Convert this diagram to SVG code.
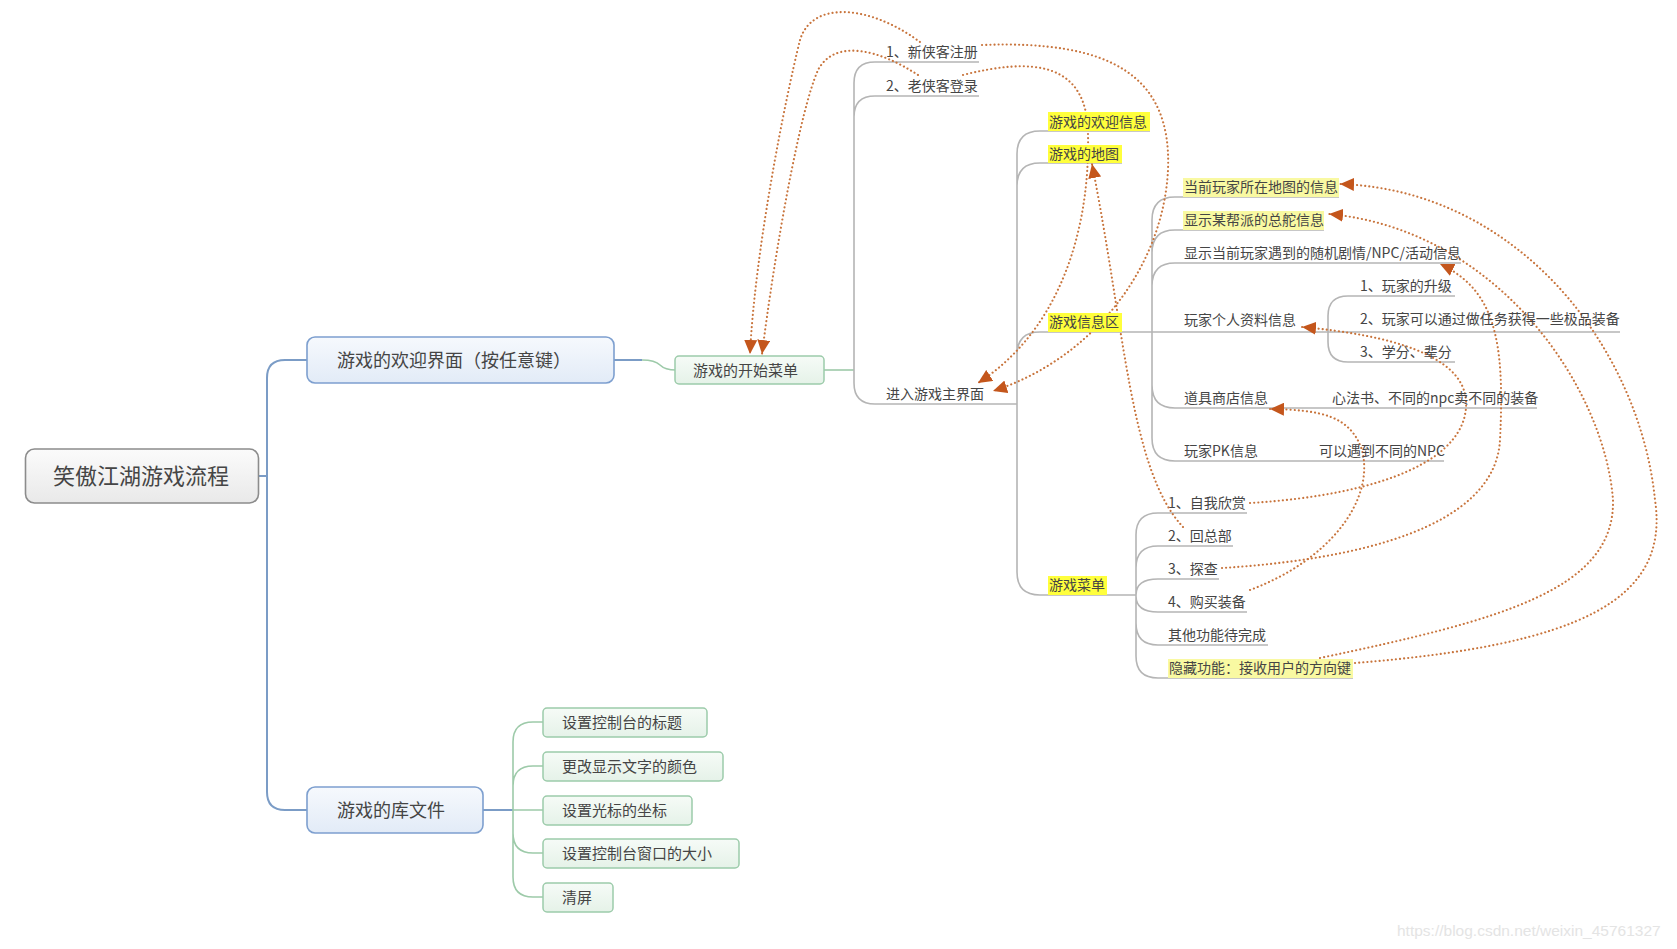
<svg xmlns="http://www.w3.org/2000/svg" width="1677" height="949" viewBox="0 0 1677 949">
<defs>
<linearGradient id="gRoot" x1="0" y1="0" x2="0" y2="1"><stop offset="0" stop-color="#fbfbfb"/><stop offset="1" stop-color="#e9e9e9"/></linearGradient>
<linearGradient id="gL1" x1="0" y1="0" x2="0" y2="1"><stop offset="0" stop-color="#f6f9fd"/><stop offset="1" stop-color="#e2ebf7"/></linearGradient>
<linearGradient id="gL2" x1="0" y1="0" x2="0" y2="1"><stop offset="0" stop-color="#f6fbf7"/><stop offset="1" stop-color="#e5f2e8"/></linearGradient>
<marker id="arr" markerUnits="userSpaceOnUse" markerWidth="15" markerHeight="13" refX="14" refY="6.5" orient="auto"><path d="M0,0 L14,6.5 L0,13 z" fill="#c4561c"/></marker>
<style>
.t{font-family:"Noto Sans CJK SC","Liberation Sans",sans-serif;fill:#454545}
.s14{font-size:14px}
.blue{fill:none;stroke:#7b9cc6;stroke-width:2}
.green{fill:none;stroke:#9dcaa9;stroke-width:1.6}
.gray{fill:none;stroke:#b5b5b5;stroke-width:1.6}
.rel{fill:none;stroke:#c8743c;stroke-width:2.1;stroke-dasharray:0.1 4;stroke-linecap:round;marker-end:url(#arr)}
.hb{fill:#ffff3c}
.hp{fill:#f9f9a2}
.box2{fill:url(#gL2);stroke:#9ccbaa;stroke-width:1.5}
</style>
</defs>
<rect width="1677" height="949" fill="#ffffff"/>

<g id="connectors">
<path class="blue" d="M259,476 H267 M307,360 H285 Q267,360 267,378 V792 Q267,810 285,810 H307"/>
<path class="blue" d="M614,360 H642"/>
<path class="green" d="M642,360 Q655,360 660,365 Q665,370 676,370"/>
<path class="green" d="M824,370 H854"/>
<path class="gray" d="M979,62 H875 Q854,62 854,83 V383 Q854,404 875,404 H1017 M979,96 H875 Q854,96 854,117"/>
<path class="gray" d="M1150,131 H1040 Q1017,131 1017,154 V572 Q1017,595 1040,595 H1136 M1122,163 H1040 Q1017,163 1017,186 M1040,332 Q1017,332 1017,355 M1040,332 H1620"/>
<path class="gray" d="M1339,197 H1175 Q1152,197 1152,220 V438 Q1152,461 1175,461 H1444 M1324,230 H1175 Q1152,230 1152,253 M1461,263 H1175 Q1152,263 1152,286 M1537,408 H1175 Q1152,408 1152,385"/>
<path class="gray" d="M1455,296 H1348 Q1328,296 1328,316 V342 Q1328,362 1348,362 H1455"/>
<path class="gray" d="M1247,513 H1158 Q1136,513 1136,535 V656 Q1136,678 1158,678 H1353 M1233,546 H1158 Q1136,546 1136,568 M1219,579 H1158 Q1136,579 1136,595 M1247,612 H1158 Q1136,612 1136,596 M1268,645 H1158 Q1136,645 1136,623"/>
<path class="blue" d="M483,810 H513"/>
<path class="green" d="M543,722 H533 Q513,722 513,742 V877 Q513,897 533,897 H543 M543,766 H533 Q513,766 513,786 M513,810 H543 M543,853 H533 Q513,853 513,833"/>

<path class="rel" d="M920,42 C870,5 812,0 800,40 C785,100 755,250 750,354"/>
<path class="rel" d="M918,75 C880,50 835,38 818,70 C800,110 775,250 762,354"/>
<path class="rel" d="M963,75 C1030,58 1088,60 1088,135 C1090,230 1060,330 978,383"/>
<path class="rel" d="M982,45 C1110,40 1172,75 1168,170 C1163,270 1090,360 993,391"/>
<path class="rel" d="M1183,527 C1130,470 1125,330 1092,164"/>
<path class="rel" d="M1355,663 C1580,645 1670,600 1655,500 C1640,350 1520,190 1340,184"/>
<path class="rel" d="M1320,658 C1500,620 1615,590 1613,500 C1605,390 1500,230 1329,214"/>
<path class="rel" d="M1222,568 C1350,560 1495,530 1500,440 C1505,340 1495,290 1440,264"/>
<path class="rel" d="M1250,503 C1380,495 1470,460 1466,400 C1462,355 1390,335 1302,327"/>
<path class="rel" d="M1250,590 C1330,560 1375,500 1362,450 C1350,415 1320,410 1270,409"/>
</g>

<g id="root">
<rect x="25.5" y="449" width="233" height="54" rx="9" fill="url(#gRoot)" stroke="#8c8c8c" stroke-width="1.6"/>
<text class="t" x="141" y="484" font-size="22" text-anchor="middle">笑傲江湖游戏流程</text>
</g>

<g id="welcome">
<rect x="307" y="337" width="307" height="46" rx="8" fill="url(#gL1)" stroke="#7d9fcf" stroke-width="1.6"/>
<text class="t" x="337" y="367" font-size="18">游戏的欢迎界面（按任意键）</text>
</g>

<g id="library">
<rect x="307" y="787" width="176" height="46" rx="8" fill="url(#gL1)" stroke="#7d9fcf" stroke-width="1.6"/>
<text class="t" x="337" y="817" font-size="18">游戏的库文件</text>
</g>

<g id="startmenu">
<rect x="675" y="356" width="149" height="28" rx="4" class="box2"/>
<text class="t" x="693" y="376" font-size="15">游戏的开始菜单</text>
</g>

<g id="newuser"><text class="t s14" x="886" y="57">1、新侠客注册</text></g>
<g id="olduser"><text class="t s14" x="886" y="91">2、老侠客登录</text></g>
<g id="mainui"><text class="t s14" x="886" y="399">进入游戏主界面</text></g>

<g id="welcomeinfo"><rect class="hb" x="1048" y="112" width="102" height="19"/><text class="t s14" x="1049" y="127">游戏的欢迎信息</text></g>
<g id="map"><rect class="hb" x="1048" y="145" width="74" height="18"/><text class="t s14" x="1049" y="159">游戏的地图</text></g>
<g id="infoarea"><rect class="hb" x="1048" y="313" width="74" height="19"/><text class="t s14" x="1049" y="327">游戏信息区</text></g>
<g id="gamemenu"><rect class="hb" x="1048" y="576" width="59" height="19"/><text class="t s14" x="1049" y="590">游戏菜单</text></g>

<g id="curmap"><rect class="hp" x="1183" y="178" width="156" height="19"/><text class="t s14" x="1184" y="192">当前玩家所在地图的信息</text></g>
<g id="gang"><rect class="hp" x="1183" y="211" width="141" height="19"/><text class="t s14" x="1184" y="225">显示某帮派的总舵信息</text></g>
<g id="random"><text class="t s14" x="1184" y="258">显示当前玩家遇到的随机剧情/NPC/活动信息</text></g>
<g id="profile"><text class="t s14" x="1184" y="325">玩家个人资料信息</text></g>
<g id="p1"><text class="t s14" x="1360" y="291">1、玩家的升级</text></g>
<g id="p2"><text class="t s14" x="1360" y="324">2、玩家可以通过做任务获得一些极品装备</text></g>
<g id="p3"><text class="t s14" x="1360" y="357">3、学分、辈分</text></g>
<g id="shop"><text class="t s14" x="1184" y="403">道具商店信息</text></g>
<g id="shopnote"><text class="t s14" x="1332" y="403">心法书、不同的npc卖不同的装备</text></g>
<g id="pk"><text class="t s14" x="1184" y="456">玩家PK信息</text></g>
<g id="pknote"><text class="t s14" x="1319" y="456">可以遇到不同的NPC</text></g>

<g id="m1"><text class="t s14" x="1168" y="508">1、自我欣赏</text></g>
<g id="m2"><text class="t s14" x="1168" y="541">2、回总部</text></g>
<g id="m3"><text class="t s14" x="1168" y="574">3、探查</text></g>
<g id="m4"><text class="t s14" x="1168" y="607">4、购买装备</text></g>
<g id="m5"><text class="t s14" x="1168" y="640">其他功能待完成</text></g>
<g id="m6"><rect class="hp" x="1168" y="659" width="185" height="19"/><text class="t s14" x="1169" y="673">隐藏功能：接收用户的方向键</text></g>

<g id="lib1"><rect class="box2" x="543" y="708" width="164" height="29" rx="4"/><text class="t" x="562" y="728" font-size="15">设置控制台的标题</text></g>
<g id="lib2"><rect class="box2" x="543" y="752" width="180" height="29" rx="4"/><text class="t" x="562" y="772" font-size="15">更改显示文字的颜色</text></g>
<g id="lib3"><rect class="box2" x="543" y="796" width="149" height="29" rx="4"/><text class="t" x="562" y="816" font-size="15">设置光标的坐标</text></g>
<g id="lib4"><rect class="box2" x="543" y="839" width="196" height="29" rx="4"/><text class="t" x="562" y="859" font-size="15">设置控制台窗口的大小</text></g>
<g id="lib5"><rect class="box2" x="543" y="883" width="70" height="29" rx="4"/><text class="t" x="562" y="903" font-size="15">清屏</text></g>

<text x="1397" y="936" font-family="Liberation Sans, Arial, sans-serif" font-size="15.5" fill="#e4e4e4">https://blog.csdn.net/weixin_45761327</text>
</svg>
